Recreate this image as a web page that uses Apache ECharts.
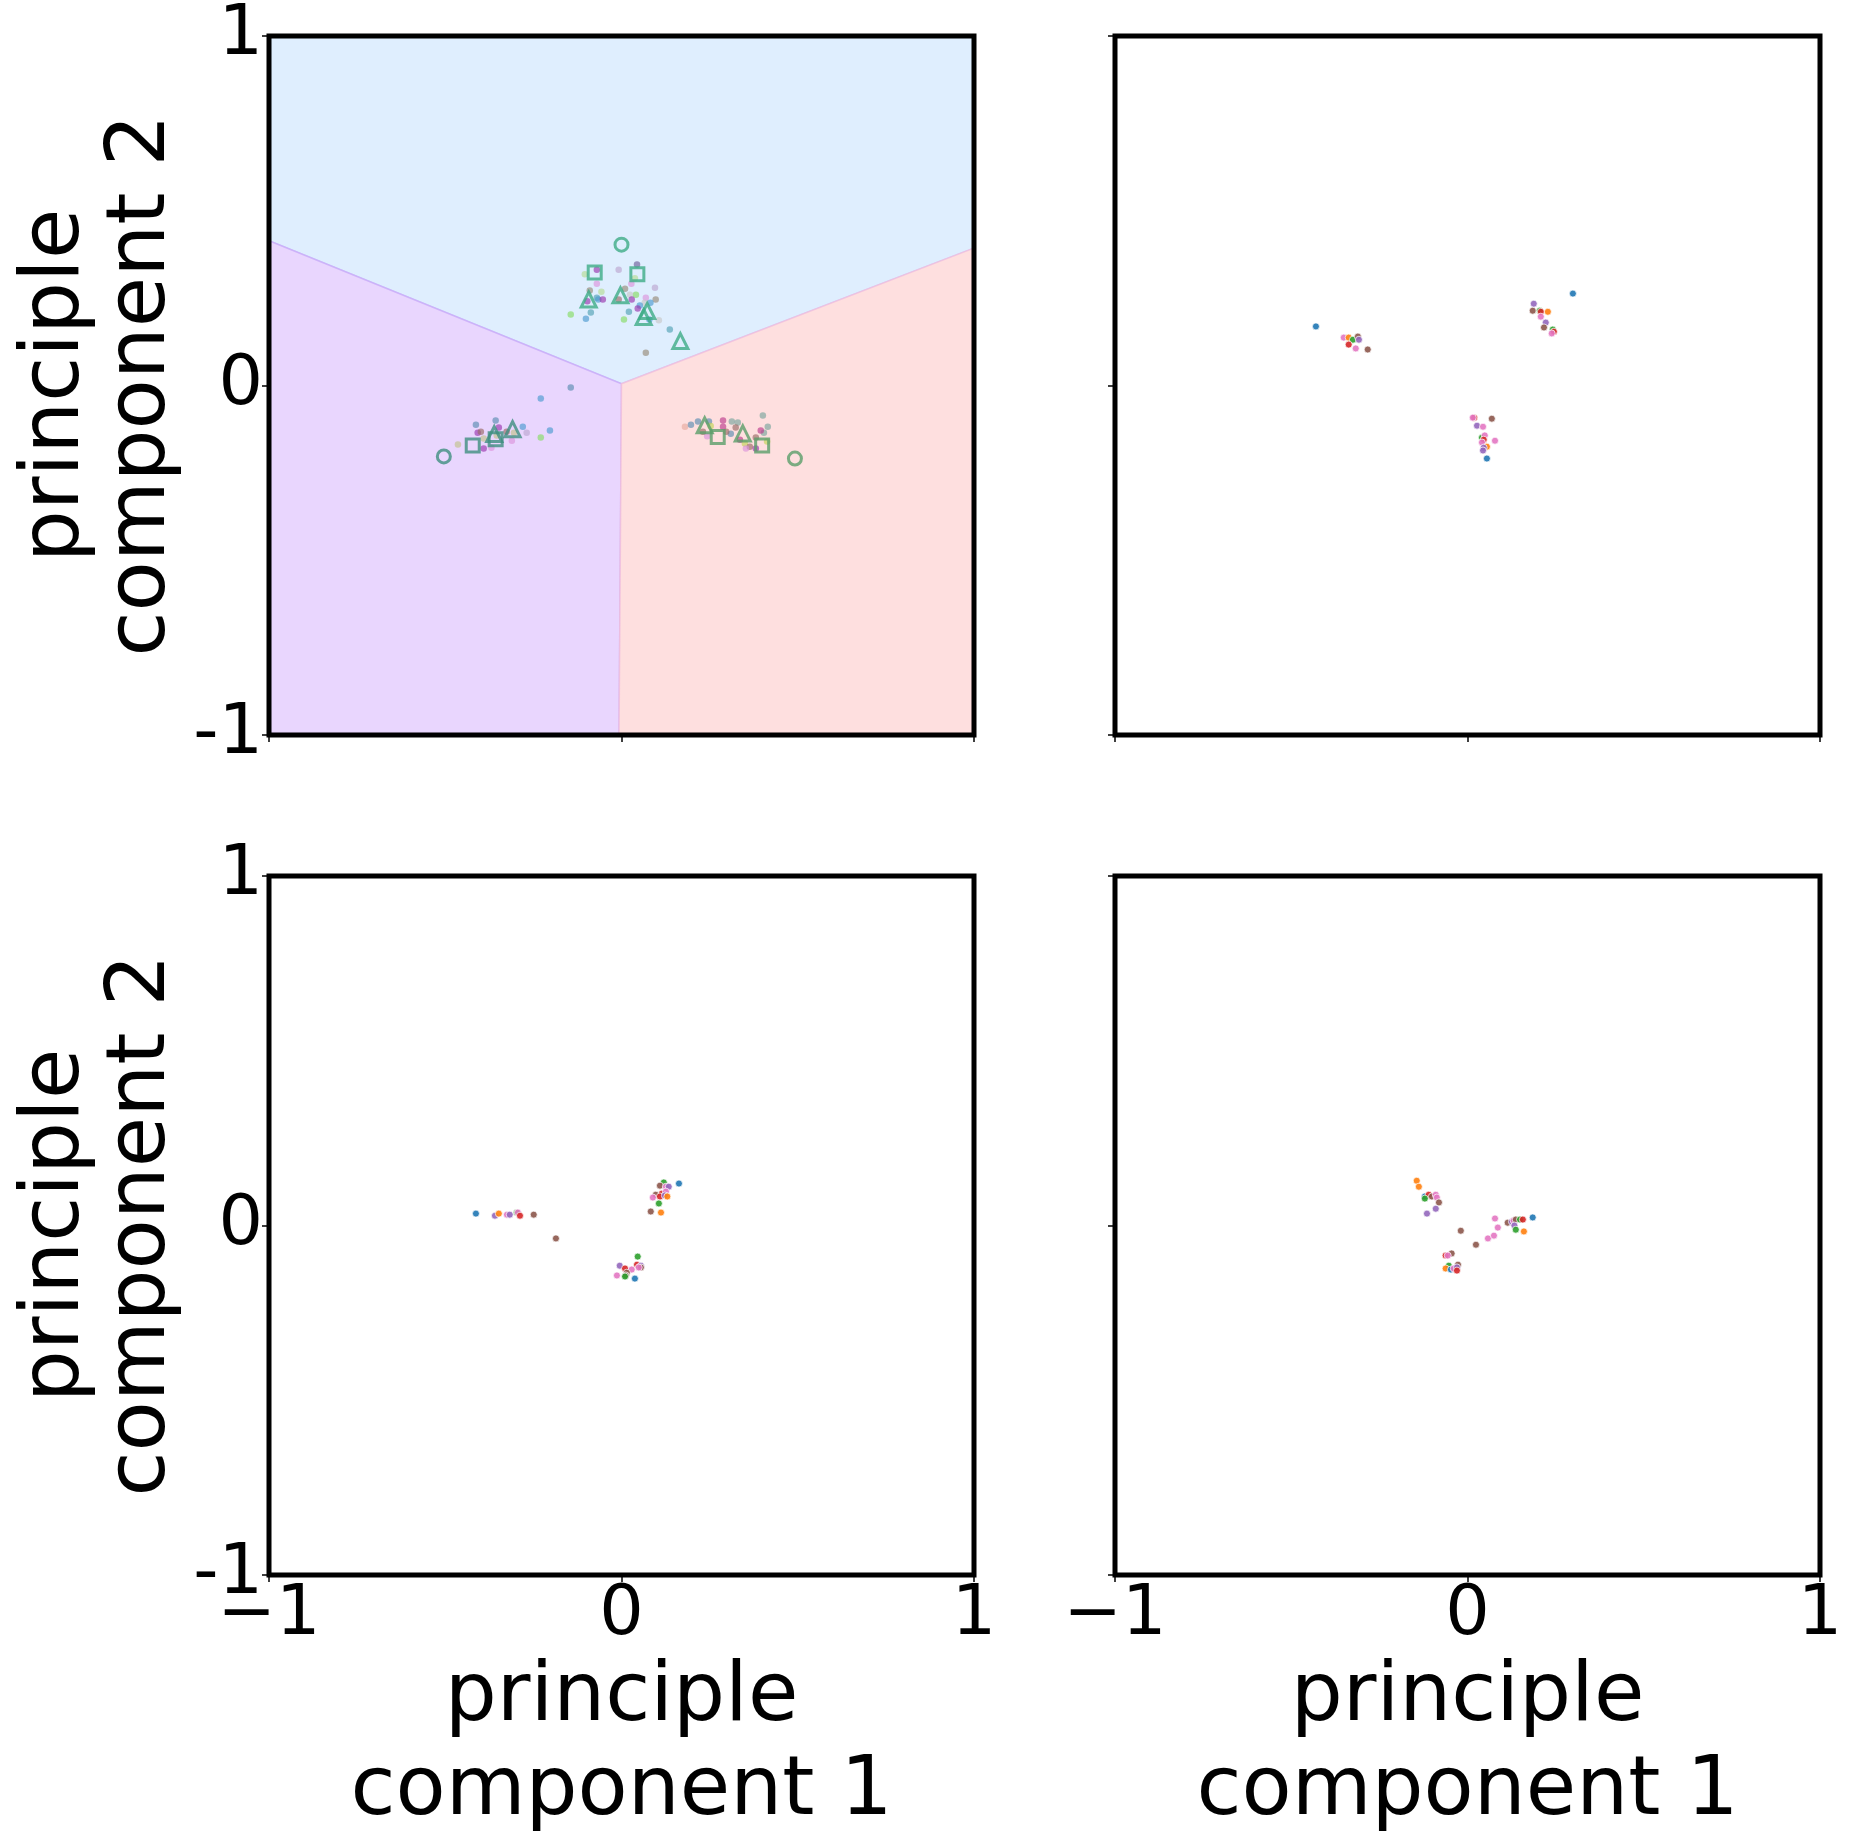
<!DOCTYPE html>
<html>
<head>
<meta charset="utf-8">
<script src="https://cdn.jsdelivr.net/npm/echarts@6/dist/echarts.min.js"></script>
<style>
html, body { margin: 0; padding: 0; background: #fff; }
#main { width: 1851px; height: 1843px; }
</style>
</head>
<body>
<div id="main"></div>
<script>
// axis ticks
var tickValues = [-1, 0, 1];
var xTickText = ['\u22121', '0', '1'];
var yTickText = ['-1', '0', '1'];

// decision regions of panel A (polygon corners in data units)
var regionNames = ['top', 'left', 'right'];
var regionTop = [[-1, 1], [1, 1], [1, 0.393], [0, 0.005], [-1, 0.414]];
var regionLeft = [[-1, 0.414], [0, 0.005], [-0.007, -1], [-1, -1]];
var regionRight = [[0, 0.005], [1, 0.393], [1, -1], [-0.007, -1]];

// panel A: small projected points [x, y, colour key]
var pcaDots = [
	[0.044, 0.346, 'pg'], [-0.070, 0.331, 'pu'], [-0.008, 0.331, 'lp'], [-0.104, 0.318, 'lg'],
	[0.038, 0.307, 'lg'], [-0.070, 0.291, 'pk'], [0.028, 0.291, 'pk'], [-0.090, 0.272, 'bg'],
	[-0.057, 0.268, 'lg'], [0.010, 0.277, 'bg'], [0.095, 0.280, 'lp'], [0.041, 0.260, 'gr'],
	[0.024, 0.260, 'ly'], [-0.070, 0.251, 'tl'], [-0.066, 0.246, 'bl'], [-0.053, 0.246, 'pu'],
	[-0.097, 0.241, 'pu'], [-0.008, 0.246, 'br'], [0.029, 0.246, 'pu'], [0.069, 0.251, 'pk'],
	[0.097, 0.246, 'bg'], [0.082, 0.237, 'bl'], [0.066, 0.237, 'ly'], [0.052, 0.229, 'bl'],
	[0.046, 0.220, 'pu'], [0.021, 0.211, 'tl'], [-0.087, 0.209, 'tl'], [-0.144, 0.203, 'gr'],
	[-0.101, 0.191, 'bl'], [0.007, 0.189, 'gr'], [0.079, 0.189, 'bl'], [0.106, 0.187, 'ly'],
	[0.137, 0.160, 'tl'], [0.069, 0.094, 'bg'],
	[-0.144, -0.006, 'bs'], [-0.229, -0.037, 'bl'], [-0.413, -0.112, 'bs'], [-0.357, -0.100, 'bs'],
	[-0.408, -0.135, 'pu'], [-0.399, -0.132, 'br'], [-0.348, -0.120, 'pu'], [-0.280, -0.118, 'bl'],
	[-0.269, -0.135, 'lp'], [-0.203, -0.129, 'bl'], [-0.229, -0.149, 'gr'], [-0.464, -0.169, 'kh'],
	[-0.391, -0.180, 'pu'], [-0.311, -0.158, 'pk'], [-0.391, -0.152, 'kh'], [-0.326, -0.132, 'br'],
	[-0.369, -0.178, 'pk'], [-0.305, -0.135, 'kh'], [-0.354, -0.143, 'kh'],
	[0.180, -0.118, 'lk'], [0.197, -0.112, 'bs'], [0.217, -0.103, 'bs'], [0.248, -0.103, 'bs'],
	[0.288, -0.100, 'mg'], [0.288, -0.118, 'mg'], [0.313, -0.103, 'gt'], [0.330, -0.106, 'gt'],
	[0.324, -0.120, 'br'], [0.401, -0.086, 'gt'], [0.415, -0.118, 'gt'], [0.404, -0.135, 'gt'],
	[0.395, -0.129, 'mg'], [0.310, -0.138, 'bs'], [0.243, -0.145, 'pk'], [0.253, -0.116, 'yg'],
	[0.231, -0.132, 'br'], [0.297, -0.132, 'br'], [0.350, -0.166, 'yg'], [0.364, -0.175, 'br'],
	[0.353, -0.180, 'pk'], [0.381, -0.180, 'pu'], [0.336, -0.155, 'mg'], [0.381, -0.149, 'br'],
	[0.413, -0.160, 'yg']
];

// panel A: prototype markers [x, y, cluster]
var protoCircles = [[0.000, 0.403, 'top'], [-0.504, -0.203, 'left'], [0.492, -0.209, 'right']];
var protoSquares = [
	[-0.076, 0.323, 'top'], [0.045, 0.318, 'top'], [-0.422, -0.172, 'left'],
	[-0.357, -0.154, 'left'], [0.273, -0.147, 'right'], [0.399, -0.172, 'right']
];
var protoTriangles = [
	[-0.093, 0.246, 'top'], [-0.003, 0.258, 'top'], [0.073, 0.213, 'top'], [0.063, 0.196, 'top'],
	[0.167, 0.127, 'top'], [-0.361, -0.139, 'left'], [-0.309, -0.125, 'left'],
	[0.236, -0.114, 'right'], [0.344, -0.137, 'right']
];

// panel B (top right)
var dotsB = [
	[-0.430, 0.169, 'blue'], [-0.351, 0.137, 'pink'], [-0.337, 0.137, 'orange'], [-0.325, 0.131, 'green'],
	[-0.311, 0.140, 'brown'], [-0.308, 0.131, 'purple'], [-0.337, 0.117, 'red'], [-0.317, 0.106, 'pink'],
	[-0.283, 0.103, 'brown'],
	[0.299, 0.263, 'blue'], [0.188, 0.234, 'purple'], [0.185, 0.214, 'brown'], [0.205, 0.214, 'green'],
	[0.208, 0.211, 'red'], [0.228, 0.211, 'orange'], [0.208, 0.197, 'pink'], [0.222, 0.180, 'purple'],
	[0.217, 0.166, 'brown'], [0.242, 0.160, 'green'], [0.245, 0.154, 'red'], [0.239, 0.149, 'pink'],
	[0.019, -0.092, 'red'], [0.015, -0.092, 'pink'], [0.069, -0.095, 'brown'], [0.027, -0.115, 'purple'],
	[0.044, -0.118, 'pink'], [0.041, -0.149, 'green'], [0.049, -0.143, 'pink'], [0.046, -0.155, 'red'],
	[0.041, -0.163, 'pink'], [0.078, -0.158, 'pink'], [0.055, -0.175, 'orange'], [0.046, -0.178, 'purple'],
	[0.044, -0.186, 'purple'], [0.055, -0.209, 'blue']
];

// panel C (bottom left)
var dotsC = [
	[-0.413, 0.034, 'blue'], [-0.359, 0.028, 'purple'], [-0.348, 0.034, 'orange'], [-0.325, 0.031, 'pink'],
	[-0.317, 0.031, 'purple'], [-0.297, 0.037, 'green'], [-0.294, 0.037, 'pink'], [-0.288, 0.028, 'red'],
	[-0.249, 0.031, 'brown'], [-0.186, -0.037, 'brown'],
	[0.163, 0.120, 'blue'], [0.120, 0.123, 'green'], [0.109, 0.114, 'brown'], [0.126, 0.111, 'pink'],
	[0.134, 0.111, 'purple'], [0.114, 0.091, 'red'], [0.097, 0.088, 'brown'], [0.126, 0.097, 'pink'],
	[0.109, 0.083, 'red'], [0.123, 0.086, 'purple'], [0.130, 0.083, 'orange'], [0.089, 0.080, 'pink'],
	[0.106, 0.063, 'green'], [0.083, 0.040, 'brown'], [0.112, 0.037, 'orange'],
	[0.046, -0.089, 'green'], [0.044, -0.112, 'red'], [0.055, -0.115, 'purple'], [0.055, -0.120, 'brown'],
	[0.049, -0.120, 'pink'], [-0.005, -0.115, 'purple'], [0.010, -0.123, 'red'], [0.029, -0.126, 'pink'],
	[0.015, -0.135, 'brown'], [0.012, -0.143, 'brown'], [0.010, -0.146, 'green'], [-0.013, -0.143, 'pink'],
	[0.038, -0.152, 'blue']
];

// panel D (bottom right)
var dotsD = [
	[-0.144, 0.128, 'orange'], [-0.138, 0.111, 'orange'], [-0.121, 0.083, 'blue'], [-0.110, 0.088, 'red'],
	[-0.121, 0.077, 'green'], [-0.101, 0.083, 'brown'], [-0.090, 0.088, 'pink'], [-0.087, 0.080, 'pink'],
	[-0.081, 0.066, 'brown'], [-0.090, 0.048, 'purple'], [-0.115, 0.034, 'purple'],
	[-0.019, -0.015, 'brown'], [0.024, -0.055, 'brown'], [0.058, -0.037, 'pink'], [0.075, -0.029, 'pink'],
	[0.086, -0.006, 'pink'], [0.078, 0.020, 'pink'], [0.114, 0.008, 'brown'], [0.126, 0.011, 'purple'],
	[0.131, 0.014, 'pink'], [0.137, 0.017, 'brown'], [0.149, 0.017, 'green'], [0.157, 0.017, 'red'],
	[0.133, 0.000, 'purple'], [0.137, -0.012, 'green'], [0.160, -0.017, 'orange'], [0.185, 0.023, 'blue'],
	[-0.045, -0.080, 'brown'], [-0.062, -0.086, 'red'], [-0.056, -0.086, 'pink'], [-0.053, -0.115, 'green'],
	[-0.062, -0.123, 'orange'], [-0.047, -0.126, 'blue'], [-0.039, -0.123, 'pink'], [-0.027, -0.112, 'brown'],
	[-0.030, -0.120, 'purple'], [-0.030, -0.129, 'red']
];

// colours
var regionFill = { top: '#dfeefe', left: '#e9d6fe', right: '#fedfdf' };
var regionStroke = { top: 'rgba(190,185,250,0.6)', left: 'rgba(200,170,248,0.8)', right: 'rgba(240,190,220,0.8)' };
var dotColorA = {
	pg: '#6f5f99', pu: '#9a35ad', lp: '#bca6cf', lg: '#b6dc94', pk: '#dc94dc', bg: '#978a78',
	gr: '#86dc62', ly: '#c8c8c8', bl: '#4c9ad0', tl: '#52a2b4', br: '#9a6a66', mg: '#bb3a8c',
	gt: '#7aa49c', yg: '#c2d456', kh: '#c2c28a', bs: '#5a8cb0', lk: '#e6aaa0'
};
var protoColor = { top: '#3dab86', left: '#3f8f80', right: '#5a9e69' };
var tab10 = {
	blue: '#1f77b4', orange: '#ff7f0e', green: '#2ca02c', red: '#d62728',
	purple: '#9467bd', brown: '#8c564b', pink: '#e377c2'
};

var grids = [
	{ left: 269, top: 36, width: 705, height: 699 },
	{ left: 1115, top: 36, width: 705, height: 699 },
	{ left: 269, top: 876, width: 705, height: 699 },
	{ left: 1115, top: 876, width: 705, height: 699 }
];
grids.forEach(function(g) {
	g.show = true;
	g.z = 5;
	g.borderColor = '#000';
	g.borderWidth = 5;
	g.backgroundColor = 'rgba(0,0,0,0)';
});

var labelFont = 'DejaVu Sans';

function makeX(i) {
	var bottom = i >= 2;
	return {
		gridIndex: i, type: 'value', min: -1, max: 1, interval: 1,
		axisLine: { show: false, onZero: false },
		axisTick: { show: true, length: 7, lineStyle: { color: '#000', width: 1.5 } },
		splitLine: { show: false },
		axisLabel: {
			show: bottom, fontFamily: labelFont, fontSize: 70, color: '#000', margin: 6,
			formatter: function(v) { return xTickText[tickValues.indexOf(Math.round(v))]; }
		},
		name: bottom ? 'principle\ncomponent 1' : '',
		nameLocation: 'middle', nameGap: 72,
		nameTextStyle: { fontFamily: labelFont, fontSize: 82, lineHeight: 94, color: '#000' }
	};
}

function makeY(i) {
	var left = i % 2 === 0;
	return {
		gridIndex: i, type: 'value', min: -1, max: 1, interval: 1,
		axisLine: { show: false, onZero: false },
		axisTick: { show: true, length: 7, lineStyle: { color: '#000', width: 1.5 } },
		splitLine: { show: false },
		axisLabel: {
			show: left, fontFamily: labelFont, fontSize: 70, color: '#000', margin: 6,
			formatter: function(v) { return yTickText[tickValues.indexOf(Math.round(v))]; }
		},
		name: left ? 'principle\ncomponent 2' : '',
		nameLocation: 'middle', nameGap: 83, nameRotate: 90,
		nameTextStyle: { fontFamily: labelFont, fontSize: 82, lineHeight: 86, color: '#000' }
	};
}

var regionPolys = { top: regionTop, left: regionLeft, right: regionRight };

function renderRegion(params, api) {
	var key = regionNames[params.dataIndex];
	var pts = regionPolys[key].map(function(p) { return api.coord(p); });
	return {
		type: 'polygon',
		shape: { points: pts },
		style: { fill: regionFill[key], stroke: regionStroke[key], lineWidth: 1.5 }
	};
}

function protoSeries(list, symbol, size) {
	return {
		type: 'scatter', xAxisIndex: 0, yAxisIndex: 0, z: 3,
		symbol: symbol, symbolSize: size,
		data: list.map(function(p) {
			return {
				value: [p[0], p[1]],
				itemStyle: { color: 'rgba(0,0,0,0)', borderColor: protoColor[p[2]], borderWidth: 3 }
			};
		})
	};
}

function tabSeries(list, idx) {
	return {
		type: 'scatter', xAxisIndex: idx, yAxisIndex: idx, z: 3,
		symbolSize: 7,
		data: list.map(function(p) {
			return {
				value: [p[0], p[1]],
				itemStyle: { color: tab10[p[2]], opacity: 0.9, borderColor: '#fff', borderWidth: 0.8 }
			};
		})
	};
}

var chart = echarts.init(document.getElementById('main'), null, { renderer: 'canvas' });

var option = {
	animation: false,
	backgroundColor: '#fff',
	grid: grids,
	xAxis: [0, 1, 2, 3].map(makeX),
	yAxis: [0, 1, 2, 3].map(makeY),
	series: [
		{
			type: 'custom', xAxisIndex: 0, yAxisIndex: 0, z: 1,
			renderItem: renderRegion,
			data: regionNames.map(function() { return [0, 0]; })
		},
		{
			type: 'scatter', xAxisIndex: 0, yAxisIndex: 0, z: 3,
			symbolSize: 6.5,
			data: pcaDots.map(function(p) {
				return { value: [p[0], p[1]], itemStyle: { color: dotColorA[p[2]], opacity: 0.65 } };
			})
		},
		protoSeries(protoCircles, 'circle', 13),
		protoSeries(protoSquares, 'rect', 13),
		protoSeries(protoTriangles, 'triangle', 15),
		tabSeries(dotsB, 1),
		tabSeries(dotsC, 2),
		tabSeries(dotsD, 3)
	]
};
chart.setOption(option);
</script>
</body>
</html>
